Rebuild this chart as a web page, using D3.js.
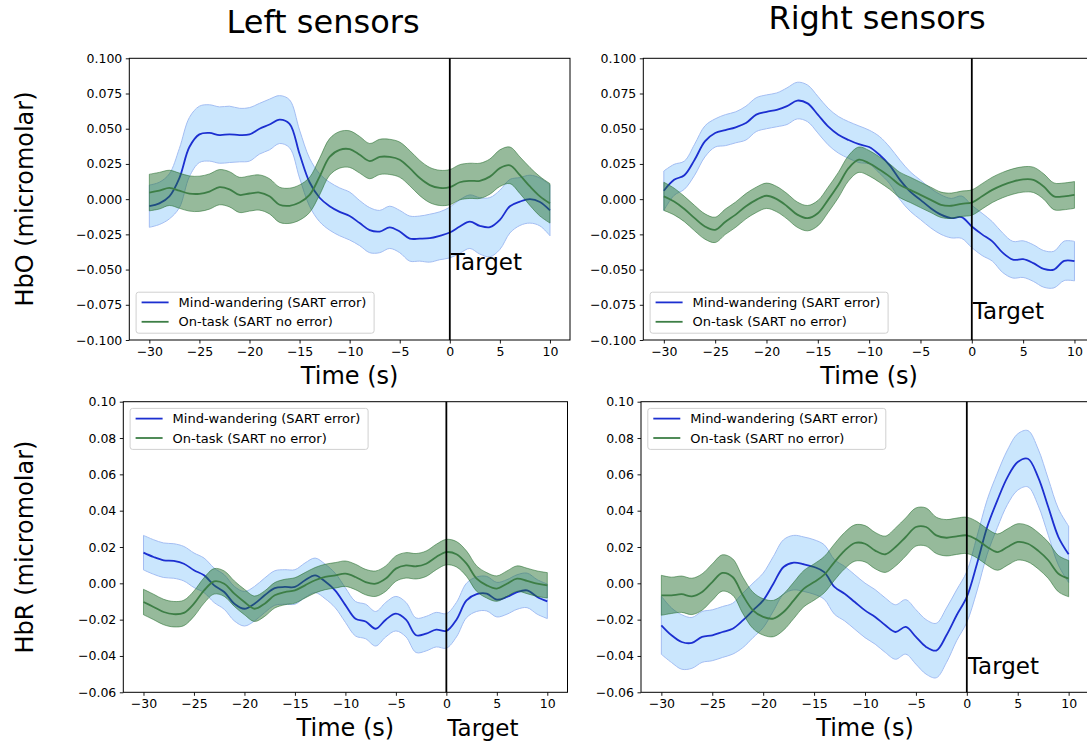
<!DOCTYPE html>
<html><head><meta charset="utf-8">
<script src="https://cdn.jsdelivr.net/npm/d3@7"></script>
<style>body{margin:0;background:#fff} svg{display:block} text{font-family:"DejaVu Sans",sans-serif;fill:#000}</style>
</head><body><svg id="c" width="1087" height="745"></svg>
<script>
// ---------- DATA ----------
const time = [-30,-29,-28,-27,-26,-25,-24,-23,-22,-21,-20,-19,-18,-17,-16,-15,-14,-13,-12,-11,-10,-9,-8,-7,-6,-5,-4,-3,-2,-1,0,1,2,3,4,5,6,7,8,9,10];
const xTicks = [-30,-25,-20,-15,-10,-5,0,5,10];
const yTicksHbO = [-0.100,-0.075,-0.050,-0.025,0.000,0.025,0.050,0.075,0.100];
const yTicksHbR = [-0.06,-0.04,-0.02,0.00,0.02,0.04,0.06,0.08,0.10];
const seriesNames = ["Mind-wandering (SART error)", "On-task (SART no error)"];
const columnTitles = ["Left sensors", "Right sensors"];
const rowLabels = ["HbO (micromolar)", "HbR (micromolar)"];
const xLabel = "Time (s)";
const targetLabel = "Target";

// Left HbO
const leftHbO_mw = [-0.005,-0.003,0.002,0.015,0.037,0.046,0.047,0.0455,0.046,0.0455,0.046,0.050,0.053,0.0565,0.0535,0.032,0.012,0.001,-0.005,-0.009,-0.012,-0.017,-0.022,-0.023,-0.020,-0.023,-0.028,-0.028,-0.0277,-0.026,-0.0237,-0.0194,-0.016,-0.019,-0.0199,-0.0147,-0.005,-0.0017,0.000,-0.002,-0.008];
const leftHbO_mwSem = [0.015,0.015,0.016,0.021,0.021,0.020,0.020,0.020,0.020,0.019,0.019,0.018,0.018,0.017,0.017,0.017,0.017,0.017,0.017,0.017,0.017,0.016,0.016,0.015,0.015,0.015,0.016,0.016,0.017,0.017,0.018,0.019,0.019,0.020,0.021,0.021,0.019,0.017,0.017,0.017,0.018];
const leftHbO_on = [0.0047,0.006,0.008,0.006,0.004,0.0038,0.0054,0.0085,0.007,0.003,0.004,0.0047,0.002,-0.004,-0.0047,-0.0024,0.003,0.016,0.030,0.035,0.0355,0.0315,0.027,0.030,0.030,0.028,0.022,0.015,0.010,0.008,0.0085,0.012,0.013,0.013,0.016,0.022,0.024,0.017,0.009,0.002,-0.003];
const leftHbO_onSem = [0.013,0.013,0.0125,0.0125,0.0125,0.0125,0.0125,0.0125,0.0125,0.0125,0.0125,0.0125,0.0125,0.0125,0.0125,0.0125,0.0125,0.013,0.013,0.013,0.013,0.013,0.0125,0.0125,0.0125,0.0125,0.0125,0.0125,0.0125,0.0125,0.0125,0.0125,0.0125,0.0125,0.0125,0.013,0.013,0.013,0.0135,0.014,0.014];
// Right HbO
const rightHbO_mw = [0.006,0.0137,0.017,0.028,0.041,0.047,0.049,0.051,0.054,0.060,0.062,0.0634,0.066,0.070,0.068,0.060,0.0516,0.0457,0.042,0.039,0.037,0.0315,0.024,0.0137,0.0054,-0.0005,-0.0064,-0.011,-0.0135,-0.0128,-0.0194,-0.025,-0.030,-0.038,-0.043,-0.0426,-0.0454,-0.0495,-0.050,-0.0438,-0.044];
const rightHbO_mwSem = [0.014,0.011,0.010,0.011,0.011,0.010,0.011,0.011,0.012,0.012,0.012,0.012,0.013,0.013,0.013,0.013,0.013,0.013,0.013,0.013,0.012,0.013,0.013,0.014,0.014,0.014,0.014,0.014,0.014,0.015,0.015,0.015,0.014,0.014,0.013,0.013,0.013,0.013,0.013,0.014,0.014];
const rightHbO_on = [0.002,-0.0017,-0.007,-0.0135,-0.0194,-0.0218,-0.016,-0.011,-0.005,-0.0005,0.0024,0.000,-0.005,-0.011,-0.0135,-0.010,-0.0005,0.010,0.022,0.028,0.0255,0.021,0.016,0.010,0.0066,0.003,-0.0005,-0.004,-0.0047,-0.0033,-0.0024,0.002,0.0066,0.010,0.0125,0.014,0.0137,0.009,0.002,0.002,0.003];
const rightHbO_onSem = [0.010,0.0095,0.009,0.009,0.009,0.009,0.009,0.009,0.009,0.009,0.009,0.009,0.009,0.009,0.009,0.009,0.009,0.009,0.009,0.009,0.009,0.009,0.009,0.009,0.009,0.009,0.009,0.009,0.009,0.009,0.009,0.009,0.009,0.009,0.009,0.009,0.009,0.009,0.0095,0.0095,0.0095];
// Left HbR
const leftHbR_mw = [0.0169,0.0145,0.0127,0.0123,0.0108,0.0072,0.0044,-0.0011,-0.0048,-0.0112,-0.014,-0.0112,-0.0066,-0.0026,-0.002,-0.002,0.0017,0.0044,0.001,-0.004,-0.012,-0.0195,-0.021,-0.025,-0.020,-0.0167,-0.020,-0.0286,-0.0277,-0.0255,-0.0262,-0.020,-0.0094,-0.006,-0.0057,-0.009,-0.0075,-0.0048,-0.0039,-0.0075,-0.0099];
const leftHbR_mwSem = [0.0095,0.0095,0.0095,0.0095,0.0095,0.0095,0.0095,0.0095,0.0095,0.0095,0.0095,0.0095,0.0095,0.0095,0.0095,0.0095,0.0095,0.0095,0.0095,0.0095,0.0095,0.0095,0.0095,0.0095,0.0095,0.0095,0.0095,0.0095,0.0095,0.0095,0.0095,0.0095,0.0095,0.0095,0.0095,0.0095,0.0095,0.0095,0.0095,0.0095,0.0095];
const leftHbR_on = [-0.0103,-0.013,-0.0158,-0.017,-0.0163,-0.0112,-0.0039,0.0011,-0.0002,-0.0057,-0.0103,-0.014,-0.0112,-0.0066,-0.0048,-0.0039,-0.0011,0.0017,0.0035,0.0044,0.0053,0.0035,0.0007,-0.0002,0.0026,0.0081,0.0099,0.0094,0.0108,0.0145,0.0172,0.016,0.0108,0.0026,-0.0011,-0.0029,-0.0002,0.0026,0.0013,-0.0002,-0.0011];
const leftHbR_onSem = [0.007,0.007,0.007,0.007,0.007,0.007,0.007,0.007,0.007,0.007,0.007,0.007,0.007,0.007,0.007,0.007,0.007,0.007,0.007,0.007,0.007,0.007,0.007,0.007,0.007,0.007,0.007,0.007,0.007,0.007,0.007,0.007,0.007,0.007,0.007,0.007,0.007,0.007,0.007,0.007,0.007];
// Right HbR
const rightHbR_mw = [-0.0231,-0.0286,-0.0323,-0.0328,-0.0295,-0.0286,-0.0268,-0.025,-0.0204,-0.0149,-0.0094,-0.0002,0.009,0.0114,0.0105,0.009,0.0062,-0.002,-0.0057,-0.0103,-0.0149,-0.0185,-0.0231,-0.0268,-0.024,-0.0295,-0.035,-0.037,-0.0286,-0.0176,-0.0075,0.0108,0.031,0.0457,0.0585,0.0668,0.0686,0.0585,0.042,0.0255,0.016];
const rightHbR_mwSem = [0.016,0.015,0.015,0.014,0.014,0.014,0.014,0.014,0.015,0.015,0.015,0.015,0.015,0.015,0.015,0.015,0.015,0.015,0.015,0.015,0.015,0.015,0.015,0.015,0.015,0.015,0.015,0.015,0.015,0.014,0.014,0.015,0.015,0.015,0.015,0.0155,0.0155,0.0155,0.0155,0.0155,0.0155];
const rightHbR_on = [-0.0066,-0.0066,-0.006,-0.0072,-0.0048,0.0007,0.0057,0.0035,-0.0066,-0.0149,-0.0185,-0.0194,-0.0158,-0.0094,-0.0029,0.0007,0.0048,0.0117,0.018,0.0222,0.0218,0.018,0.016,0.020,0.0255,0.031,0.031,0.0264,0.0251,0.0259,0.0264,0.024,0.020,0.0172,0.020,0.0228,0.0218,0.018,0.0127,0.0053,0.0026];
const rightHbR_onSem = [0.011,0.010,0.010,0.010,0.010,0.010,0.010,0.010,0.010,0.010,0.010,0.010,0.010,0.010,0.010,0.010,0.010,0.010,0.010,0.010,0.010,0.010,0.010,0.0105,0.0105,0.0105,0.0105,0.010,0.010,0.010,0.010,0.010,0.010,0.010,0.010,0.010,0.010,0.010,0.010,0.010,0.010];

// ---------- LAYOUT ----------
const panels = [
  {x0:129.3, x1:570,  y0:58.3,  y1:340,   ydom:[-0.1,0.1],  yt:yTicksHbO, fmt:".3f", mw:leftHbO_mw,  mwS:leftHbO_mwSem,  on:leftHbO_on,  onS:leftHbO_onSem,  legend:"bottom", targetBase:270},
  {x0:643.3, x1:1095, y0:58.3,  y1:340,   ydom:[-0.1,0.1],  yt:yTicksHbO, fmt:".3f", mw:rightHbO_mw, mwS:rightHbO_mwSem, on:rightHbO_on, onS:rightHbO_onSem, legend:"bottom", targetBase:318.5},
  {x0:123.3, x1:567.5,y0:401.7, y1:692.3, ydom:[-0.06,0.10],yt:yTicksHbR, fmt:".2f", mw:leftHbR_mw,  mwS:leftHbR_mwSem,  on:leftHbR_on,  onS:leftHbR_onSem,  legend:"top",    targetBase:735.5},
  {x0:641,   x1:1089, y0:401.7, y1:692.3, ydom:[-0.06,0.10],yt:yTicksHbR, fmt:".2f", mw:rightHbR_mw, mwS:rightHbR_mwSem, on:rightHbR_on, onS:rightHbR_onSem, legend:"top",    targetBase:673.5}
];
const C = {
  mwLine:"#1c2fd0", mwFill:"#cae6fd", mwEdge:"#a3bdf2",
  onLine:"#3d7e46", onFill:"rgb(36,110,46)", onFillOp:0.48
};

const svg = d3.select("#c");

panels.forEach((p, i) => {
  const x = d3.scaleLinear().domain([-32, 12]).range([p.x0, p.x1]);
  const y = d3.scaleLinear().domain(p.ydom).range([p.y1, p.y0]);
  const g = svg.append("g");
  const clipId = "clip" + i;
  svg.append("defs").append("clipPath").attr("id", clipId)
    .append("rect").attr("x", p.x0).attr("y", p.y0).attr("width", p.x1 - p.x0).attr("height", p.y1 - p.y0);
  const plot = g.append("g").attr("clip-path", `url(#${clipId})`);

  const idx = time.map((t, k) => k);
  const curve = d3.curveCatmullRom.alpha(0.5);
  const area = (m, s) => d3.area().curve(curve).x(k => x(time[k])).y0(k => y(m[k] - s[k])).y1(k => y(m[k] + s[k]));
  const line = (m) => d3.line().curve(curve).x(k => x(time[k])).y(k => y(m[k]));

  plot.append("path").attr("d", area(p.mw, p.mwS)(idx)).attr("fill", C.mwFill).attr("stroke", C.mwEdge).attr("stroke-width", 1);
  plot.append("path").attr("d", line(p.mw)(idx)).attr("fill", "none").attr("stroke", C.mwLine).attr("stroke-width", 1.8);
  plot.append("path").attr("d", area(p.on, p.onS)(idx)).attr("fill", C.onFill).attr("fill-opacity", C.onFillOp)
    .attr("stroke", C.onFill).attr("stroke-opacity", 0.55).attr("stroke-width", 1);
  plot.append("path").attr("d", line(p.on)(idx)).attr("fill", "none").attr("stroke", C.onLine).attr("stroke-width", 1.8);

  // target line
  g.append("line").attr("x1", x(0)).attr("x2", x(0)).attr("y1", p.y0).attr("y2", p.y1).attr("stroke", "#000").attr("stroke-width", 1.8);

  // axes
  const xa = g.append("g").attr("transform", `translate(0,${p.y1})`)
    .call(d3.axisBottom(x).tickValues(xTicks).tickSize(3.5).tickPadding(3.5).tickSizeOuter(0).tickFormat(d3.format("d")));
  const ya = g.append("g").attr("transform", `translate(${p.x0},0)`)
    .call(d3.axisLeft(y).tickValues(p.yt).tickSize(3.5).tickPadding(3.5).tickSizeOuter(0).tickFormat(d3.format(p.fmt)));
  [xa, ya].forEach(a => {
    a.select(".domain").remove();
    a.selectAll("text").attr("font-size", 12.5).attr("font-family", "DejaVu Sans").attr("fill", "#000");
    a.selectAll("line").attr("stroke", "#000").attr("stroke-width", 0.9);
  });
  g.append("rect").attr("x", p.x0).attr("y", p.y0).attr("width", p.x1 - p.x0).attr("height", p.y1 - p.y0)
    .attr("fill", "none").attr("stroke", "#000").attr("stroke-width", 1);

  // legend
  const lw = 238, lh = 41;
  const lx = p.x0 + 6.8;
  const ly = p.legend === "bottom" ? p.y1 - 6.8 - lh : p.y0 + 6.7;
  const lg = g.append("g");
  lg.append("rect").attr("x", lx).attr("y", ly).attr("width", lw).attr("height", lh).attr("rx", 2.5)
    .attr("fill", "#fff").attr("fill-opacity", 0.8).attr("stroke", "#d0d0d0").attr("stroke-width", 1);
  [[C.mwLine, seriesNames[0]], [C.onLine, seriesNames[1]]].forEach(([col, name], r) => {
    const cy = ly + 10.2 + r * 19.4;
    lg.append("line").attr("x1", lx + 5.5).attr("x2", lx + 32.5).attr("y1", cy).attr("y2", cy).attr("stroke", col).attr("stroke-width", 1.8);
    lg.append("text").attr("x", lx + 42.5).attr("y", cy).attr("dy", "0.36em").attr("font-size", 13).text(name);
  });

  // target label
  g.append("text").attr("x", x(0) + 1).attr("y", p.targetBase).attr("font-size", 23).text(targetLabel);

  // x label
  g.append("text").attr("x", (p.x0 + p.x1) / 2).attr("y", p.y1 + 43.5).attr("text-anchor", "middle").attr("font-size", 24).text(xLabel);
});

// column titles
svg.append("text").attr("x", 323).attr("y", 33).attr("text-anchor", "middle").attr("font-size", 32).text(columnTitles[0]);
svg.append("text").attr("x", 877).attr("y", 29).attr("text-anchor", "middle").attr("font-size", 32).text(columnTitles[1]);
// row labels
svg.append("text").attr("transform", "translate(33,199) rotate(-90)").attr("text-anchor", "middle").attr("font-size", 24).text(rowLabels[0]);
svg.append("text").attr("transform", "translate(33,547) rotate(-90)").attr("text-anchor", "middle").attr("font-size", 24).text(rowLabels[1]);
</script></body></html>
